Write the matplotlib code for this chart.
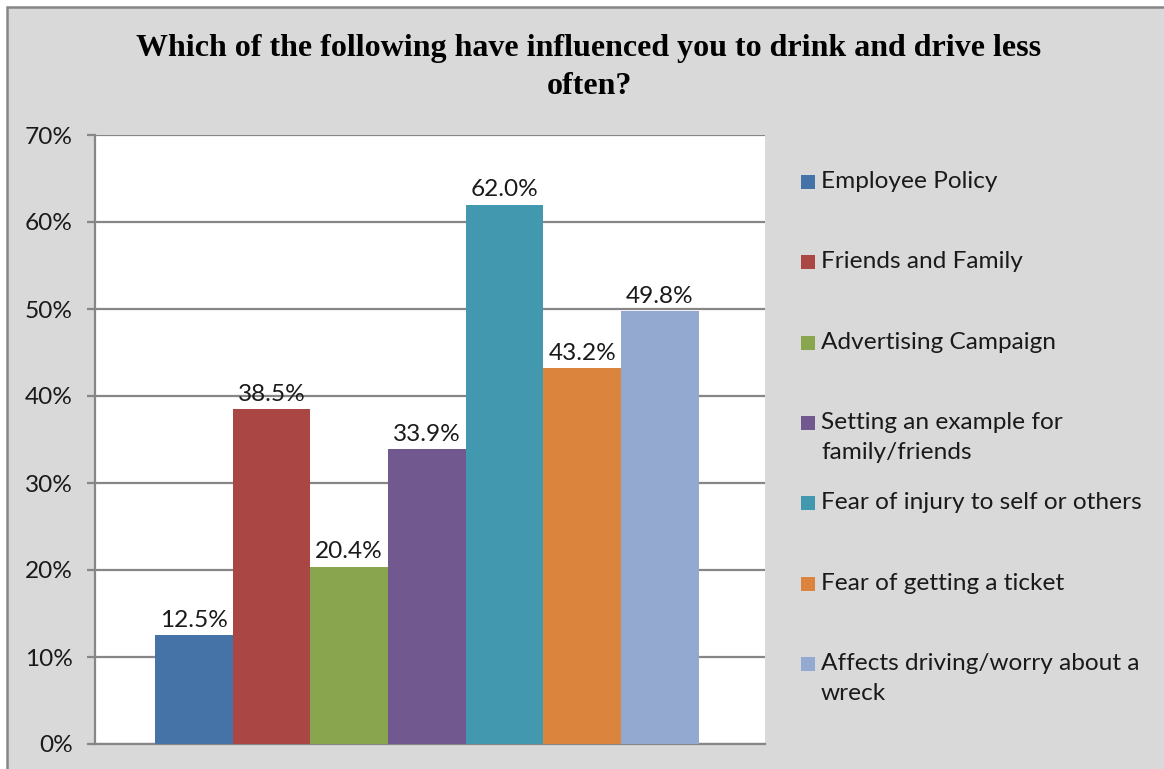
import numpy as np
import matplotlib
matplotlib.use("Agg")
import matplotlib.pyplot as plt
from matplotlib.patches import Rectangle

# ---- data ----
categories = [
    "Employee Policy",
    "Friends and Family",
    "Advertising Campaign",
    "Setting an example for\nfamily/friends",
    "Fear of injury to self or others",
    "Fear of getting a ticket",
    "Affects driving/worry about a\nwreck",
]
values = [12.5, 38.5, 20.4, 33.9, 62.0, 43.2, 49.8]
colors = ["#4572A7", "#AA4643", "#89A54E", "#71588F", "#4198AF", "#DB843D", "#93A9CF"]
yticks = [0, 10, 20, 30, 40, 50, 60, 70]
title = "Which of the following have influenced you to drink and drive less\noften?"

W, H = 1164, 769
SANS = "Lato"
FS = 17.6
GRID = "#868686"
BG = "#d9d9d9"
INK = "#1a1a1a"

fig = plt.figure(figsize=(W / 100, H / 100), dpi=100)
fig.patch.set_facecolor("white")
fig.patches.append(Rectangle((7 / W, -0.1), 1.2, (H - 7) / H + 0.1,
                             transform=fig.transFigure, facecolor=BG,
                             edgecolor=GRID, linewidth=1.8, zorder=-5))

ax = fig.add_axes([95 / W, (H - 744) / H, 670 / W, (744 - 135) / H])
ax.set_zorder(2)
ax.set_facecolor("white")

x = np.arange(len(values))
ax.bar(x, values, width=1.0, color=colors, zorder=3)
for xi, v in zip(x, values):
    ax.annotate(f"{v:.1f}%", (xi, v), xytext=(0, 3), textcoords="offset points",
                ha="center", va="bottom", fontsize=FS, family=SANS, color=INK)

ax.set_xlim(-1.27, 7.35)
ax.set_ylim(0, 70)
ax.set_yticks(yticks)
ax.set_yticklabels([f"{t}%" for t in yticks], fontsize=FS, family=SANS, color=INK)
ax.set_xticks([])
ax.yaxis.grid(True, color=GRID, linewidth=1.6, zorder=0)
ax.set_axisbelow(True)
for s in ["top", "right"]:
    ax.spines[s].set_visible(False)
for s in ["left", "bottom"]:
    ax.spines[s].set_color(GRID)
    ax.spines[s].set_linewidth(1.6)
ax.tick_params(axis="y", length=6, width=1.6, color=GRID, pad=10)

fig.text(589 / W, 1 - 34 / H, title, ha="center", va="top", fontsize=23,
         family="Liberation Serif", fontweight="bold", linespacing=1.42)

# legend drawn by hand so wrapped entries keep even spacing
for i, (lab, c) in enumerate(zip(categories, colors)):
    yc = 182 + i * 80.3
    fig.patches.append(Rectangle((801 / W, 1 - (yc + 7) / H), 14 / W, 14 / H,
                                 transform=fig.transFigure, facecolor=c,
                                 edgecolor="none", zorder=3))
    fig.text(821 / W, 1 - (yc - 11) / H, lab, ha="left", va="top", fontsize=FS,
             family=SANS, color=INK, linespacing=1.52)

fig.savefig("out.png", dpi=100)
